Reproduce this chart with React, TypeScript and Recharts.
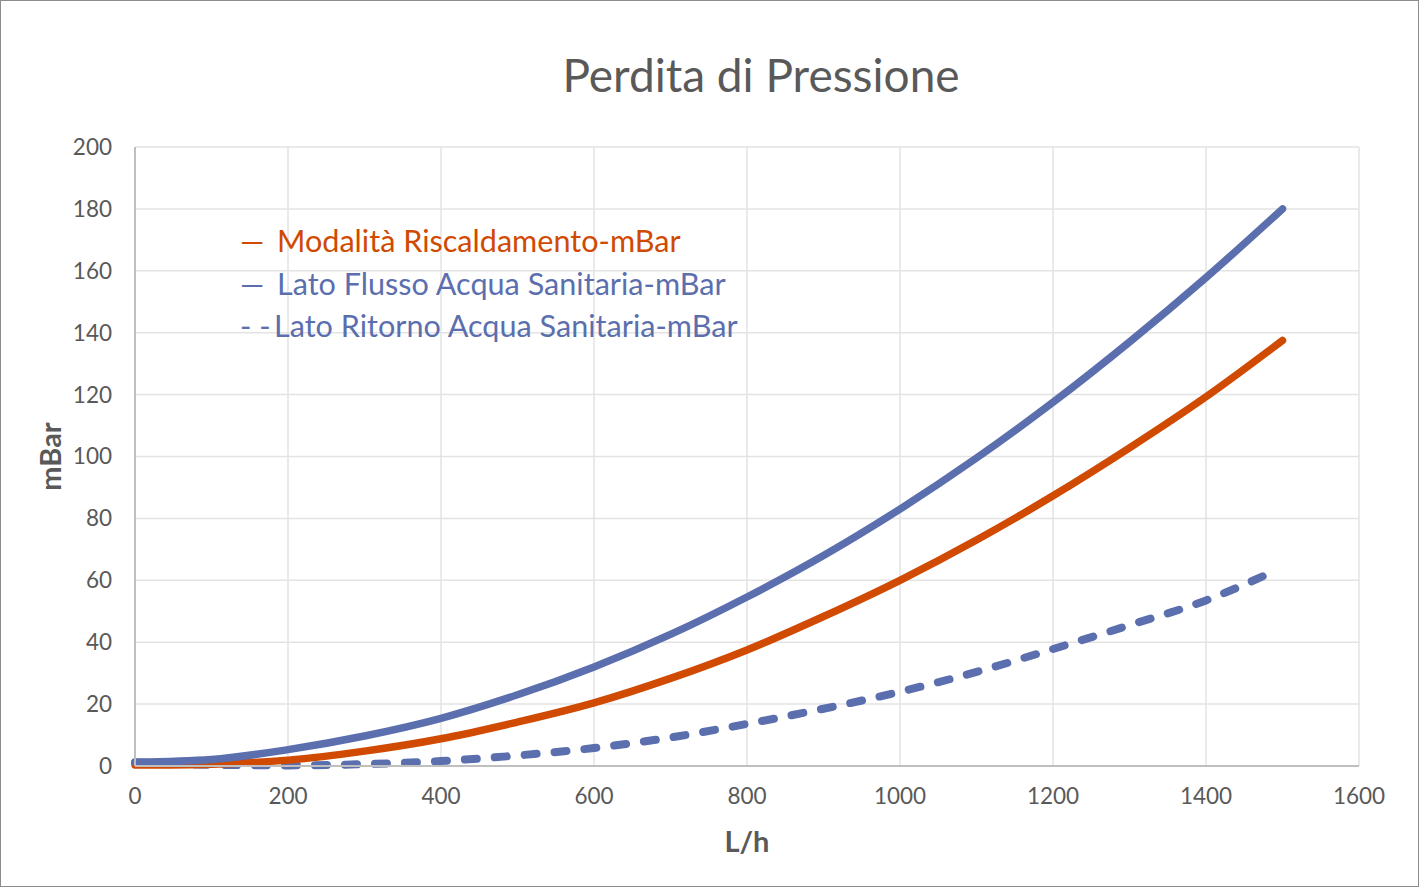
import { LineChart, Line, XAxis, YAxis, CartesianGrid, Legend } from "recharts";

// portata (L/h) e perdite di pressione (mBar)
const flow = [0, 100, 200, 300, 400, 500, 600, 700, 800, 900, 1000, 1100, 1200, 1300, 1400, 1500];
const riscaldamento = [0.3, 0.6, 1.9, 4.8, 8.8, 14.2, 20.4, 28.3, 37.5, 48.3, 60, 73, 87.3, 102.8, 119.3, 137.5];
const flussoSanitaria = [1.2, 2.1, 5.3, 9.7, 15.4, 23, 32, 42.5, 54.6, 68, 83, 99.5, 117.5, 137, 157.8, 180];

const ritornoFlow = [0, 100, 200, 300, 400, 500, 600, 700, 800, 900, 1000, 1100, 1200, 1300, 1400, 1485];
const ritornoSanitaria = [1.2, 0.4, 0.2, 0.6, 1.6, 3.4, 5.8, 9.2, 13.6, 18.5, 24, 30.4, 37.8, 45.5, 53.5, 62.5];

const xTicks = [0, 200, 400, 600, 800, 1000, 1200, 1400, 1600];
const yTicks = [0, 20, 40, 60, 80, 100, 120, 140, 160, 180, 200];

const ORANGE = "#D04A02";
const BLUE = "#5B6FAE";
const GREY = "#595959";
const FONT = "Lato, 'Open Sans', sans-serif";

const seriesA = flow.map((f, i) => ({ flow: f, v: riscaldamento[i] }));
const seriesB = flow.map((f, i) => ({ flow: f, v: flussoSanitaria[i] }));
const seriesC = ritornoFlow.map((f, i) => ({ flow: f, v: ritornoSanitaria[i] }));

const legendRows = [
  { mark: "\u2014", name: "Modalità Riscaldamento-mBar", color: ORANGE },
  { mark: "\u2014", name: "Lato Flusso Acqua Sanitaria-mBar", color: BLUE },
  { mark: "- -", name: "Lato Ritorno Acqua Sanitaria-mBar", color: BLUE },
];

function LegendBox() {
  return (
    <div style={{ fontFamily: FONT, fontSize: 30.6, lineHeight: "42.5px" }}>
      {legendRows.map((r) => (
        <div key={r.name} style={{ color: r.color, whiteSpace: "nowrap" }}>
          <span style={{ display: "inline-block", width: r.mark === "- -" ? 34 : 37 }}>{r.mark}</span>
          {r.name}
        </div>
      ))}
    </div>
  );
}

export default function App() {
  return (
    <div
      style={{
        position: "relative",
        width: 1419,
        height: 887,
        boxSizing: "border-box",
        border: "1px solid #8c8c8c",
        background: "#fff",
        fontFamily: FONT,
      }}
    >
      <style>{"body{margin:0}"}</style>
      <div
        style={{
          position: "absolute",
          top: 46,
          left: 760 - 400,
          width: 800,
          textAlign: "center",
          fontSize: 46,
          lineHeight: 1.2,
          color: GREY,
        }}
      >
        Perdita di Pressione
      </div>
      <LineChart
        width={1417}
        height={885}
        margin={{ top: 146, right: 59, bottom: 0, left: 0 }}
        style={{ position: "absolute", top: 0, left: 0 }}
      >
        <CartesianGrid stroke="#e3e3e3" strokeWidth={1.5} />
        <XAxis
          dataKey="flow"
          type="number"
          domain={[0, 1600]}
          ticks={xTicks}
          allowDuplicatedCategory={false}
          height={120}
          axisLine={{ stroke: "#bfbfbf", strokeWidth: 2 }}
          tickLine={false}
          tickMargin={16}
          tick={{ fill: GREY, fontSize: 22.5, fontFamily: FONT }}
          label={{
            value: "L/h",
            position: "insideBottom",
            offset: 34,
            style: { fill: GREY, fontSize: 29, fontWeight: 700, fontFamily: FONT },
          }}
        />
        <YAxis
          type="number"
          domain={[0, 200]}
          ticks={yTicks}
          width={134}
          axisLine={{ stroke: "#bfbfbf", strokeWidth: 2 }}
          tickLine={false}
          tickMargin={17}
          tick={{ fill: GREY, fontSize: 22.5, fontFamily: FONT }}
          label={{
            value: "mBar",
            angle: -90,
            position: "insideLeft",
            offset: 50,
            style: { fill: GREY, fontSize: 29, fontWeight: 700, fontFamily: FONT, textAnchor: "middle" },
          }}
        />
        <Legend
          layout="vertical"
          verticalAlign="middle"
          align="center"
          wrapperStyle={{ left: 239, top: 219, width: "auto" }}
          content={() => <LegendBox />}
        />
        <Line
          data={seriesC}
          dataKey="v"
          name="Lato Ritorno Acqua Sanitaria-mBar"
          type="monotone"
          stroke={BLUE}
          strokeWidth={8}
          strokeDasharray="12 18"
          strokeLinecap="round"
          dot={false}
          isAnimationActive={false}
        />
        <Line
          data={seriesA}
          dataKey="v"
          name="Modalità Riscaldamento-mBar"
          type="monotone"
          stroke={ORANGE}
          strokeWidth={7.5}
          strokeLinecap="round"
          dot={false}
          isAnimationActive={false}
        />
        <Line
          data={seriesB}
          dataKey="v"
          name="Lato Flusso Acqua Sanitaria-mBar"
          type="monotone"
          stroke={BLUE}
          strokeWidth={7.5}
          strokeLinecap="round"
          dot={false}
          isAnimationActive={false}
        />
      </LineChart>
    </div>
  );
}
